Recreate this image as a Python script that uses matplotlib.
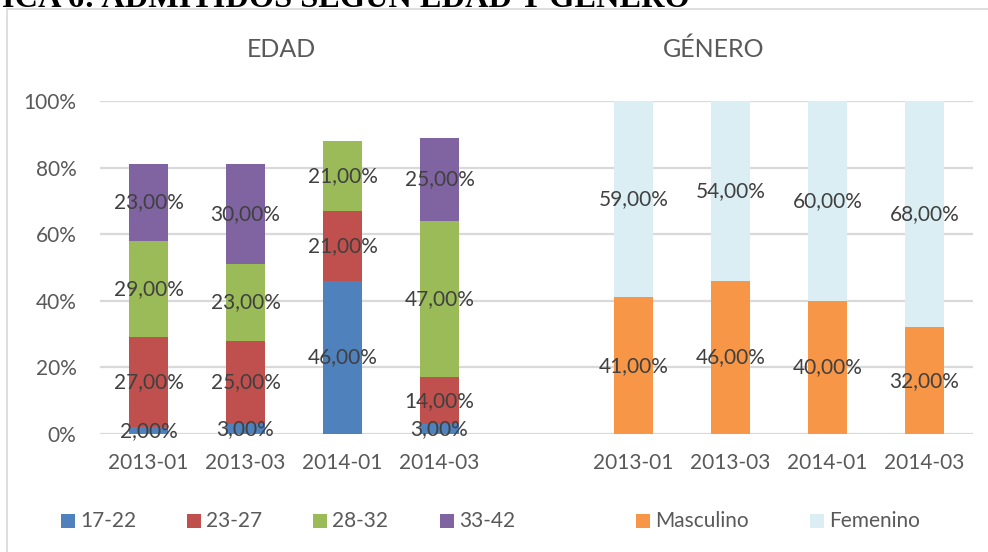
import matplotlib
matplotlib.use('Agg')
import matplotlib.pyplot as plt
from matplotlib.patches import Rectangle

# ---- data ----
periods = ['2013-01', '2013-03', '2014-01', '2014-03']
age_groups = ['17-22', '23-27', '28-32', '33-42']
age_17_22 = [2, 3, 46, 3]
age_23_27 = [27, 25, 21, 14]
age_28_32 = [29, 23, 21, 47]
age_33_42 = [23, 30, 0, 25]
gender_groups = ['Masculino', 'Femenino']
masculino = [41, 46, 40, 32]
femenino = [59, 54, 60, 68]
yticks = [0, 20, 40, 60, 80, 100]

age_colors = ['#4F81BD', '#C0504D', '#9BBB59', '#8064A2']
gender_colors = ['#F79646', '#DBEEF4']

FONT = ['Lato', 'DejaVu Sans']
plt.rcParams['font.family'] = FONT
TXT = '#595959'
LBL = '#404040'

W, H = 988, 552
fig = plt.figure(figsize=(W / 100, H / 100), dpi=100)

# outer chart frame
fig.add_artist(Rectangle((7 / W, -0.1), 1.2, 1 - 9 / H + 0.1, transform=fig.transFigure,
                         fill=False, edgecolor='#D9D9D9', lw=1.2))

# cut-off document caption at the very top
fig.text(690 / W, 1 - 7 / H, 'GRÁFICA 6: ADMITIDOS SEGÚN EDAD Y GÉNERO',
         ha='right', va='baseline', fontsize=23.3, fontweight='bold',
         family='Liberation Serif', color='#000000')

ax = fig.add_axes([100 / W, 1 - 434 / H, 873 / W, 333 / H])
ax.set_xlim(-0.5, 8.5)
ax.set_ylim(0, 100)

def fmt(v):
    return f'{v:.2f}%'.replace('.', ',')

bw = 0.4
age_x = [0, 1, 2, 3]
bottom = [0, 0, 0, 0]
for series, col in zip([age_17_22, age_23_27, age_28_32, age_33_42], age_colors):
    ax.bar(age_x, series, bw, bottom=bottom, color=col, zorder=3)
    for x, b, v in zip(age_x, bottom, series):
        if v > 0:
            ax.text(x, b + v / 2, fmt(v), ha='center', va='center',
                    fontsize=15, color=LBL, zorder=4)
    bottom = [b + v for b, v in zip(bottom, series)]

gen_x = [5, 6, 7, 8]
bottom = [0, 0, 0, 0]
for series, col in zip([masculino, femenino], gender_colors):
    ax.bar(gen_x, series, bw, bottom=bottom, color=col, zorder=3)
    for x, b, v in zip(gen_x, bottom, series):
        if v > 0:
            ax.text(x, b + v / 2, fmt(v), ha='center', va='center',
                    fontsize=15, color=LBL, zorder=4)
    bottom = [b + v for b, v in zip(bottom, series)]

ax.set_xticks(age_x + gen_x)
ax.set_xticklabels(periods + periods)
ax.set_yticks(yticks)
ax.set_yticklabels([f'{t}%' for t in yticks])
ax.tick_params(axis='both', length=0, labelsize=15, labelcolor=TXT)
ax.tick_params(axis='y', pad=17)
ax.tick_params(axis='x', pad=14)
ax.yaxis.grid(True, color='#D9D9D9', lw=1.6, zorder=0)
for s in ax.spines.values():
    s.set_visible(False)
ax.set_facecolor('none')

# panel titles
fig.text(281 / W, 1 - 49 / H, 'EDAD', ha='center', va='center', fontsize=18, color=TXT)
fig.text(714 / W, 1 - 49 / H, 'GÉNERO', ha='center', va='center', fontsize=18, color=TXT)

# legend
leg_items = list(zip(age_groups, age_colors, [61, 187, 313, 440])) + \
            list(zip(gender_groups, gender_colors, [636, 810]))
for name, col, xpx in leg_items:
    fig.add_artist(Rectangle((xpx / W, 1 - 528 / H), 14 / W, 14 / H,
                             transform=fig.transFigure, color=col, lw=0))
    fig.text((xpx + 19) / W, 1 - 521 / H, name, ha='left', va='center',
             fontsize=15, color=TXT)

fig.savefig('out.png', dpi=100)
